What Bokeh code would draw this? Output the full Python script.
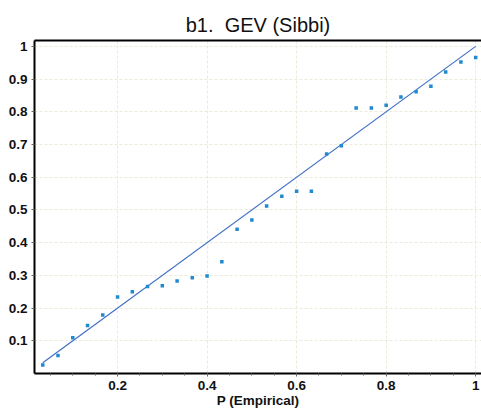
from bokeh.plotting import figure
from bokeh.models import LinearAxis, FixedTicker, Range1d
from bokeh.embed import file_html
from bokeh.resources import INLINE

# Data
p_empirical = [0.033, 0.067, 0.100, 0.133, 0.167, 0.200, 0.233, 0.267, 0.300, 0.333,
               0.367, 0.400, 0.433, 0.467, 0.500, 0.533, 0.567, 0.600, 0.633, 0.667,
               0.700, 0.733, 0.767, 0.800, 0.833, 0.867, 0.900, 0.933, 0.967, 1.000]
p_gev = [0.026, 0.055, 0.109, 0.147, 0.179, 0.234, 0.250, 0.266, 0.268, 0.283,
         0.293, 0.298, 0.342, 0.441, 0.469, 0.512, 0.542, 0.557, 0.557, 0.671,
         0.696, 0.812, 0.812, 0.820, 0.845, 0.861, 0.878, 0.922, 0.952, 0.966]
line_x = [0.033, 1.0]
line_y = [0.033, 1.0]
x_ticks = [0.2, 0.4, 0.6, 0.8, 1.0]
x_tick_labels = ["0.2", "0.4", "0.6", "0.8", "1"]
y_ticks = [0.1, 0.2, 0.3, 0.4, 0.5, 0.6, 0.7, 0.8, 0.9, 1.0]
y_tick_labels = ["0.1", "0.2", "0.3", "0.4", "0.5", "0.6", "0.7", "0.8", "0.9", "1"]

FONT = "Liberation Sans"

p = figure(width=481, height=411, output_backend="svg", toolbar_location=None,
           x_range=Range1d(0.0145, 1.013), y_range=Range1d(0.0, 1.018),
           min_border_left=34, min_border_right=0, min_border_top=40, min_border_bottom=38,
           title="b1.\u00a0 GEV (Sibbi)")
p.title.align = "center"
p.title.text_font = FONT
p.title.text_font_size = "20px"
p.title.text_font_style = "normal"
p.title.text_color = "#111111"
p.outline_line_color = None
p.background_fill_color = "white"
p.border_fill_color = "white"

# axes styling
xa = p.xaxis[0]
xa.ticker = FixedTicker(ticks=x_ticks, minor_ticks=[0.05 * k for k in range(1, 21)])
xa.major_label_overrides = {t: l for t, l in zip(x_ticks, x_tick_labels)}
xa.axis_label = "P (Empirical)"
ya = p.yaxis[0]
ya.ticker = FixedTicker(ticks=y_ticks)
ya.major_label_overrides = {t: l for t, l in zip(y_ticks, y_tick_labels)}
for ax in (xa, ya):
    ax.axis_line_color = "black"
    ax.axis_line_width = 2
    ax.major_tick_line_color = "#666666"
    ax.major_tick_in = 0
    ax.major_tick_out = 3
    ax.minor_tick_line_color = "#666666"
    ax.minor_tick_in = 0
    ax.minor_tick_out = 2
    ax.major_label_text_font = FONT
    ax.major_label_text_font_style = "bold"
    ax.major_label_text_font_size = "13.5px"
    ax.major_label_text_color = "#111111"
    ax.axis_label_text_font = FONT
    ax.axis_label_text_font_style = "bold"
    ax.axis_label_text_font_size = "13.5px"
    ax.axis_label_text_color = "#111111"
ya.minor_tick_line_color = None
ya.major_label_standoff = 4
xa.major_label_standoff = 4
xa.axis_label_standoff = 0

top = LinearAxis(ticker=FixedTicker(ticks=[]), major_label_text_font_size="0px",
                 axis_line_color="black", axis_line_width=2,
                 major_tick_line_color=None, minor_tick_line_color=None)
p.add_layout(top, "above")

for g in (p.xgrid[0], p.ygrid[0]):
    g.grid_line_color = "#ebebdc"
    g.grid_line_dash = "3 2"
    g.grid_line_width = 1
p.xgrid[0].ticker = FixedTicker(ticks=x_ticks)
p.ygrid[0].ticker = FixedTicker(ticks=y_ticks)

p.line(line_x, line_y, line_color="#3f6fc4", line_width=1.2)
p.scatter(p_empirical, p_gev, marker="square", size=3.5, fill_color="#1f8ad0",
          line_color=None)

open("out.html", "w").write(file_html(p, INLINE))
